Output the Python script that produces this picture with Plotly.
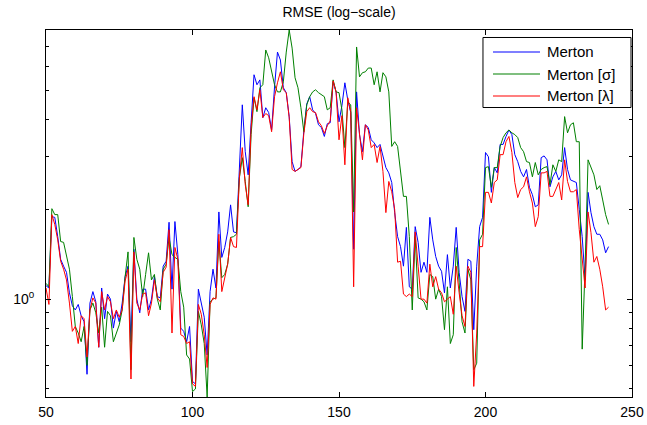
import numpy as np
import plotly.graph_objects as go

# Sample index (x axis)
t = list(range(50, 243))

# RMSE per sample, one list per model variant
rmse_merton = [
    1.11, 1.09, 1.89, 1.88, 1.62, 1.36, 1.29, 1.23, 1.05, 0.95,
    0.92, 0.96, 0.88, 0.84, 0.56, 0.97, 1.06, 0.98, 0.69, 1.09,
    0.86, 1.04, 1.00, 0.80, 0.91, 0.84, 0.97, 1.19, 1.29, 0.72,
    1.47, 1.00, 0.90, 1.08, 1.08, 0.92, 1.00, 1.19, 1.02, 1.01,
    1.29, 1.34, 1.81, 1.08, 1.82, 1.41, 0.80, 0.78, 0.72, 0.81,
    0.53, 0.52, 1.08, 0.96, 0.87, 0.65, 1.06, 1.26, 1.09, 1.96,
    1.38, 1.49, 1.68, 2.07, 1.68, 1.67, 2.61, 4.48, 3.12, 2.61,
    3.90, 5.65, 5.23, 5.43, 4.06, 4.38, 4.22, 3.69, 5.14, 6.73,
    6.33, 5.11, 4.92, 4.09, 2.89, 2.68, 2.72, 2.78, 3.67, 4.51,
    4.77, 4.31, 4.19, 3.84, 3.76, 3.51, 3.87, 3.90, 5.35, 4.95,
    3.93, 4.45, 5.31, 4.65, 4.22, 1.47, 4.95, 3.56, 3.12, 3.84,
    3.76, 3.42, 3.34, 3.22, 3.30, 2.98, 2.76, 2.65, 2.46, 1.95,
    1.62, 1.50, 1.29, 1.74, 1.10, 1.08, 1.75, 1.55, 1.23, 1.33,
    1.23, 1.88, 1.58, 1.39, 1.29, 1.24, 1.05, 1.41, 1.09, 1.29,
    1.74, 1.23, 1.02, 0.91, 1.36, 1.34, 0.79, 1.29, 1.75, 1.88,
    3.10, 3.00, 2.28, 2.76, 2.65, 3.30, 3.30, 3.51, 3.69, 3.56,
    3.05, 2.89, 2.68, 2.57, 2.72, 2.37, 2.24, 2.04, 2.07, 2.98,
    3.02, 2.93, 2.38, 2.57, 2.68, 2.51, 2.61, 3.22, 2.72, 2.51,
    2.48, 2.46, 2.00, 1.62, 1.16, 2.28, 1.95, 1.75, 1.65, 1.65,
    1.58, 1.43, 1.50,
]

rmse_merton_sigma = [
    1.13, 1.10, 2.01, 1.92, 1.92, 1.56, 1.55, 1.39, 1.26, 1.02,
    0.81, 0.77, 0.72, 0.81, 0.60, 0.92, 0.97, 0.90, 0.77, 0.94,
    0.69, 0.91, 0.88, 0.72, 0.77, 0.82, 0.92, 1.19, 1.44, 0.58,
    1.61, 1.36, 1.26, 1.02, 1.21, 1.43, 1.16, 1.21, 1.00, 0.92,
    1.26, 1.31, 1.61, 1.41, 1.38, 1.36, 1.06, 0.94, 0.65, 0.63,
    0.49, 0.50, 0.91, 0.82, 0.71, 0.47, 0.98, 1.00, 1.01, 1.56,
    1.18, 1.21, 1.31, 1.61, 1.62, 1.65, 2.55, 2.98, 2.48, 2.04,
    3.56, 4.73, 4.25, 5.11, 5.23, 6.84, 6.44, 5.78, 5.23, 4.95,
    4.95, 5.35, 6.73, 7.98, 6.94, 5.52, 5.11, 4.38, 3.64, 4.48,
    4.77, 4.95, 5.03, 4.92, 4.84, 4.77, 4.31, 4.38, 5.43, 4.95,
    4.92, 4.31, 3.22, 4.58, 4.48, 1.96, 7.00, 5.56, 5.74, 5.78,
    5.95, 5.95, 5.23, 5.78, 4.95, 5.74, 5.56, 4.95, 3.25, 3.37,
    3.25, 2.65, 2.21, 2.21, 1.62, 0.92, 1.62, 1.01, 1.00, 0.98,
    0.92, 1.21, 1.19, 1.00, 1.08, 1.02, 0.79, 1.10, 0.71, 0.76,
    1.49, 1.14, 0.84, 0.77, 1.26, 1.16, 0.58, 0.61, 1.58, 1.65,
    2.76, 2.78, 2.37, 2.76, 2.76, 3.25, 3.48, 3.61, 3.69, 3.61,
    3.56, 3.48, 3.22, 3.12, 2.89, 2.87, 2.57, 2.87, 2.61, 2.72,
    2.76, 2.78, 2.42, 2.82, 2.68, 2.93, 2.89, 4.09, 3.61, 3.84,
    3.90, 3.37, 3.37, 0.68, 1.29, 2.93, 2.76, 2.61, 2.33, 2.40,
    2.15, 1.92, 1.78,
]

rmse_merton_lambda = [
    1.09, 0.96, 1.92, 1.78, 1.58, 1.34, 1.26, 1.16, 0.97, 0.78,
    0.81, 0.71, 0.88, 0.86, 0.64, 0.92, 1.01, 0.97, 0.69, 1.06,
    0.92, 1.02, 0.98, 0.86, 0.92, 0.87, 0.92, 1.15, 1.26, 0.54,
    1.44, 0.97, 0.92, 1.04, 1.05, 0.88, 0.97, 1.16, 1.01, 0.98,
    1.23, 1.28, 1.71, 0.77, 1.49, 1.36, 0.76, 0.75, 0.71, 0.72,
    0.52, 0.51, 0.96, 0.89, 0.76, 0.59, 0.96, 1.01, 1.00, 1.65,
    1.06, 1.18, 1.31, 1.61, 1.50, 1.49, 2.55, 3.22, 2.42, 2.07,
    3.76, 4.77, 4.31, 5.03, 4.06, 4.19, 4.12, 3.64, 4.77, 5.31,
    5.78, 5.03, 4.92, 4.06, 2.72, 2.68, 2.72, 2.76, 3.59, 4.25,
    4.38, 4.25, 4.22, 3.93, 3.81, 3.59, 3.81, 3.96, 5.39, 4.95,
    3.42, 4.12, 2.82, 4.73, 4.25, 1.10, 4.38, 3.48, 2.93, 3.84,
    3.69, 3.22, 3.30, 2.87, 3.25, 2.68, 1.95, 2.48, 2.29, 2.00,
    1.33, 1.34, 1.04, 1.02, 1.04, 1.02, 1.68, 1.29, 1.00, 1.00,
    0.97, 1.31, 1.10, 1.19, 1.08, 1.05, 0.98, 1.00, 1.02, 0.89,
    1.29, 1.05, 0.88, 0.81, 1.29, 1.23, 0.51, 0.77, 1.50, 1.50,
    2.28, 2.28, 2.10, 2.46, 2.51, 3.05, 3.05, 3.37, 3.51, 3.10,
    2.46, 2.19, 2.33, 2.38, 2.57, 2.29, 2.10, 1.75, 1.89, 2.65,
    2.65, 2.68, 2.21, 2.21, 2.33, 2.46, 2.15, 2.93, 2.48, 2.29,
    2.29, 2.33, 1.71, 1.39, 1.09, 1.96, 1.67, 1.33, 1.39, 1.26,
    1.10, 0.92, 0.94,
]

series = [
    ("Merton", rmse_merton, "rgb(0,0,255)"),
    ("Merton [σ]", rmse_merton_sigma, "rgb(0,128,0)"),
    ("Merton [λ]", rmse_merton_lambda, "rgb(255,0,0)"),
]

FONT = "Liberation Sans, Arial, Helvetica, sans-serif"

fig = go.Figure()
for name, vals, color in series:
    fig.add_trace(go.Scatter(
        x=t, y=vals, mode="lines", name=name,
        line=dict(color=color, width=1),
        showlegend=False,
    ))

# y limits fit tightly to the data
all_vals = rmse_merton + rmse_merton_sigma + rmse_merton_lambda
ylo, yhi = min(all_vals), max(all_vals)

major_y = [1]
minor_y = [0.5, 0.6, 0.7, 0.8, 0.9, 2, 3, 4, 5, 6, 7, 8]

fig.update_layout(
    width=647, height=425,
    margin=dict(l=46, r=15, t=30, b=28, autoexpand=False),
    paper_bgcolor="white", plot_bgcolor="white",
    font=dict(family=FONT, size=14, color="black"),
    title=dict(text="RMSE (log−scale)", x=0.5, xref="paper",
               y=1 - 12 / 425, yanchor="middle",
               font=dict(family=FONT, size=14, color="black")),
    xaxis=dict(
        range=[50, 250], tickvals=[50, 100, 150, 200, 250],
        automargin=False,
        showgrid=False, zeroline=False,
        showline=True, linecolor="black", linewidth=1, mirror="allticks",
        ticks="inside", ticklen=5, tickcolor="black", tickwidth=1,
        ticklabelstandoff=2,
        tickfont=dict(family=FONT, size=14, color="black"),
    ),
    yaxis=dict(
        type="log", range=[np.log10(ylo), np.log10(yhi)],
        tickvals=major_y, ticktext=["10<sup>0</sup>"],
        automargin=False,
        showgrid=False, zeroline=False,
        showline=True, linecolor="black", linewidth=1, mirror="allticks",
        ticks="inside", ticklen=5, tickcolor="black", tickwidth=1,
        ticklabelstandoff=8,
        tickfont=dict(family=FONT, size=14, color="black"),
        minor=dict(tickvals=minor_y, ticks="inside", ticklen=3,
                   tickcolor="black", tickwidth=1, showgrid=False),
    ),
)

# Legend box drawn in plot-paper coordinates
box = dict(x0=0.7457, x1=0.9983, y0=0.7888, y1=0.9796)
fig.add_shape(type="rect", xref="paper", yref="paper",
              x0=box["x0"], x1=box["x1"], y0=box["y0"], y1=box["y1"],
              line=dict(color="black", width=1), fillcolor="white", layer="above")
rows_y = [0.9401, 0.8801, 0.8202]
for (name, _, color), ry in zip(series, rows_y):
    fig.add_shape(type="line", xref="paper", yref="paper",
                  x0=0.7628, x1=0.843, y0=ry, y1=ry,
                  line=dict(color=color, width=1.2), layer="above")
    fig.add_annotation(x=0.8515, y=ry, xref="paper", yref="paper",
                       text=name, showarrow=False, xanchor="left", yanchor="middle",
                       font=dict(family=FONT, size=15, color="black"))

fig.write_html("out.html")
